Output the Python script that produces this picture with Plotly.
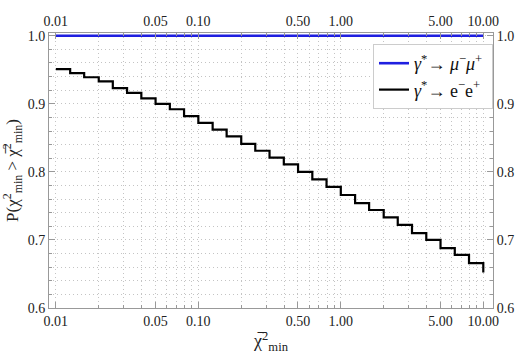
import plotly.graph_objects as go
import math

# ---- data ----
bin_edges = [0.01, 0.0126, 0.0158, 0.0200, 0.0251, 0.0316, 0.0398, 0.0501, 0.0631, 0.0794,
             0.100, 0.126, 0.158, 0.200, 0.251, 0.316, 0.398, 0.501, 0.631, 0.794,
             1.00, 1.26, 1.58, 2.00, 2.51, 3.16, 3.98, 5.01, 6.31, 7.94, 10.0]
p_ee = [0.951, 0.945, 0.939, 0.933, 0.923, 0.916, 0.908, 0.900, 0.892, 0.882,
        0.872, 0.862, 0.852, 0.841, 0.831, 0.821, 0.811, 0.800, 0.789, 0.778,
        0.766, 0.754, 0.744, 0.733, 0.722, 0.710, 0.700, 0.688, 0.678, 0.666,
        0.652]
mumu_x = [0.01, 10.0]
p_mumu = [1.0, 1.0]

x_major = [0.01, 0.05, 0.1, 0.5, 1, 5, 10]
x_major_text = ["0.01", "0.05", "0.10", "0.50", "1.00", "5.00", "10.00"]
x_minor = [0.02, 0.03, 0.04, 0.06, 0.07, 0.08, 0.09,
           0.2, 0.3, 0.4, 0.6, 0.7, 0.8, 0.9,
           2, 3, 4, 6, 7, 8, 9]
y_ticks = [0.6, 0.7, 0.8, 0.9, 1.0]
y_ticks_text = ["0.6", "0.7", "0.8", "0.9", "1.0"]

x_range = [math.log10(0.00895), math.log10(11.7)]
y_range = [0.6, 1.004]

FONT = "Liberation Serif"
AX = "#999999"
GRID = "#c4c4c4"
DASH = "1px,3px"

fig = go.Figure()
fig.add_trace(go.Scatter(
    x=mumu_x, y=p_mumu, mode="lines",
    line=dict(color="#1f1fe0", width=2.6),
    name="<i>γ</i><sup>*</sup>→ <i>μ</i><sup>−</sup><i>μ</i><sup>+</sup> ",
))
fig.add_trace(go.Scatter(
    x=bin_edges, y=p_ee, mode="lines",
    line=dict(color="black", width=2.2, shape="hv"),
    name="<i>γ</i><sup>*</sup>→ e<sup>−</sup>e<sup>+</sup>",
))
# helper trace so the top / right frame axes get drawn
fig.add_trace(go.Scatter(
    x=mumu_x, y=p_mumu, xaxis="x2", yaxis="y2", mode="lines",
    line=dict(width=0, color="rgba(0,0,0,0)"), showlegend=False, hoverinfo="skip",
))

common_x = dict(
    type="log", range=x_range, tickvals=x_major, ticktext=x_major_text,
    ticks="inside", ticklen=6, tickcolor=AX, showline=True, linecolor=AX, linewidth=1,
    zeroline=False, tickfont=dict(family=FONT, size=14, color="#222"),
)
common_y = dict(
    range=y_range, tickvals=y_ticks, ticktext=y_ticks_text,
    ticks="inside", ticklen=6, tickcolor=AX, showline=True, linecolor=AX, linewidth=1,
    zeroline=False, tickfont=dict(family=FONT, size=14, color="#222"),
)

fig.update_layout(
    width=526, height=359,
    margin=dict(l=46, r=28, t=33, b=51),
    plot_bgcolor="white", paper_bgcolor="white",
    font=dict(family=FONT, size=14, color="#222"),
    xaxis=dict(
        **common_x,
        showgrid=True, gridcolor=GRID, griddash=DASH, gridwidth=1,
        minor=dict(tickvals=x_minor, ticks="inside", ticklen=3, tickcolor=AX,
                   showgrid=True, gridcolor=GRID, griddash=DASH, gridwidth=1),
        title=dict(text="χ̅<sup>2</sup><sub>min</sub>", font=dict(family=FONT, size=18), standoff=6),
    ),
    xaxis2=dict(
        **common_x, overlaying="x", side="top", anchor="y", showgrid=False,
        minor=dict(tickvals=x_minor, ticks="inside", ticklen=3, tickcolor=AX, showgrid=False),
    ),
    yaxis=dict(
        **common_y,
        showgrid=True, gridcolor=GRID, griddash=DASH, gridwidth=1,
        minor=dict(dtick=0.02, tick0=0.6, ticks="inside", ticklen=3, tickcolor=AX,
                   showgrid=True, gridcolor=GRID, griddash=DASH, gridwidth=1),
        title=dict(text="P(χ<sup>2</sup><sub>min</sub> > χ̅<sup>2</sup><sub>min</sub>)",
                   font=dict(family=FONT, size=17), standoff=4),
    ),
    yaxis2=dict(
        **common_y, overlaying="y", side="right", anchor="x", showgrid=False,
        minor=dict(dtick=0.02, tick0=0.6, ticks="inside", ticklen=3, tickcolor=AX, showgrid=False),
    ),
    legend=dict(
        x=1.0, y=0.96, xanchor="right", yanchor="top",
        bgcolor="white", bordercolor="#cccccc", borderwidth=1,
        font=dict(family=FONT, size=18, color="#111"),
        tracegroupgap=0, itemwidth=30,
    ),
    showlegend=True,
)

fig.write_html("out.html")
